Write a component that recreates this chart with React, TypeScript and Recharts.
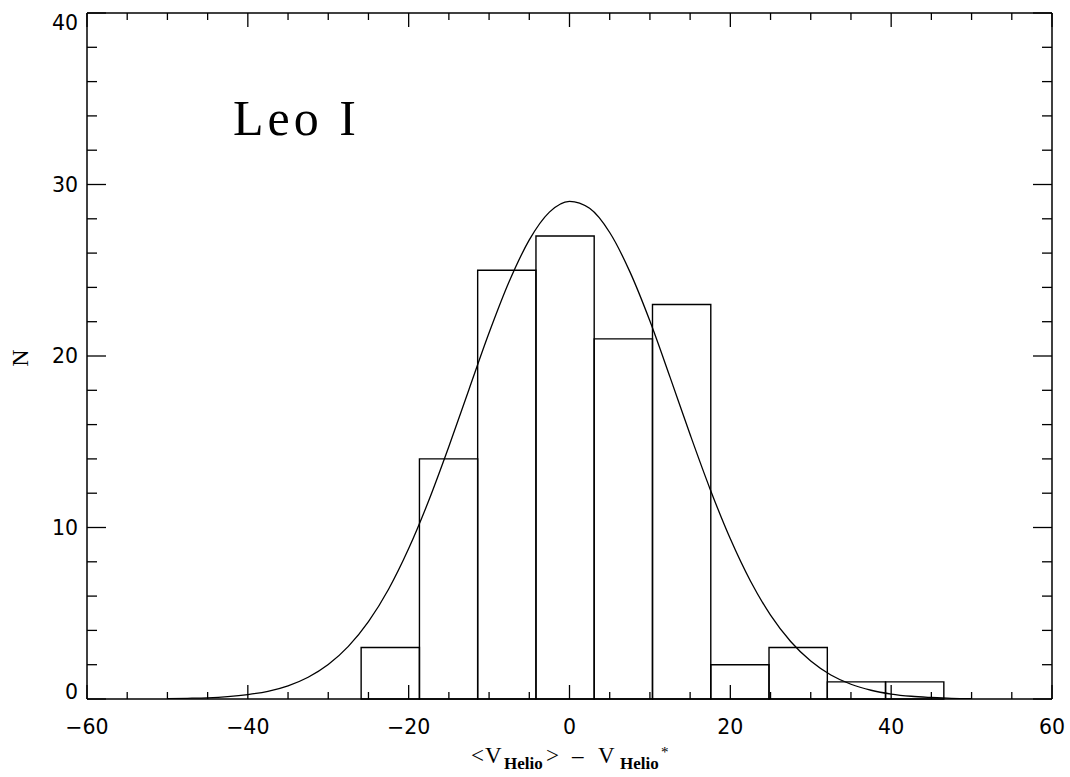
import React from "react";
import {
  ComposedChart,
  Line,
  XAxis,
  YAxis,
  ReferenceArea,
} from "recharts";

// histogram bins (velocity offset, km/s) and counts
const binStart = [-25.91, -18.66, -11.42, -4.17, 3.07, 10.32, 17.57, 24.81, 32.06, 39.3];
const binEnd = [-18.66, -11.42, -4.17, 3.07, 10.32, 17.57, 24.81, 32.06, 39.3, 46.55];
const counts = [3, 14, 25, 27, 21, 23, 2, 3, 1, 1];

// fitted curve
const curveX = [
  -50, -47.5, -45, -42.5, -40, -37.5, -35, -32.5, -30, -27.5, -25, -22.5, -20, -17.5, -15,
  -12.5, -10, -7.5, -5, -2.5, 0, 2.5, 5, 7.5, 10, 12.5, 15, 17.5, 20, 22.5, 25, 27.5, 30,
  32.5, 35, 37.5, 40, 42.5, 45, 47.5, 50,
];
const curveN = [
  0.02, 0.04, 0.07, 0.14, 0.26, 0.45, 0.77, 1.27, 2.01, 3.07, 4.51, 6.4, 8.77, 11.57, 14.72,
  18.05, 21.35, 24.34, 26.77, 28.39, 29.02, 28.61, 27.2, 24.92, 22.04, 18.77, 15.42, 12.22,
  9.34, 6.88, 4.89, 3.35, 2.21, 1.4, 0.86, 0.51, 0.29, 0.16, 0.09, 0.04, 0.02,
];

const xTicks = [-60, -55, -50, -45, -40, -35, -30, -25, -20, -15, -10, -5, 0, 5, 10, 15, 20, 25, 30, 35, 40, 45, 50, 55, 60];
const yTicks = [0, 2, 4, 6, 8, 10, 12, 14, 16, 18, 20, 22, 24, 26, 28, 30, 32, 34, 36, 38, 40];

const curve = curveX.map((x, i) => ({ x, n: curveN[i] }));

const LABEL_FONT = "'DejaVu Sans', 'Liberation Sans', sans-serif";
const SERIF = "'Liberation Serif', 'Times New Roman', serif";

function XTick(props: any) {
  const { x, y, payload, side } = props;
  const v = payload.value;
  const major = v % 20 === 0;
  const len = major ? 14 : 7;
  const dir = side === "bottom" ? -1 : 1;
  return (
    <g>
      <line x1={x} y1={y} x2={x} y2={y + dir * len} stroke="#000" strokeWidth={1.3} />
      {side === "bottom" && major && (
        <text x={x} y={y + 35} textAnchor="middle" fontFamily={LABEL_FONT} fontSize={20.5} fill="#000">
          {String(v).replace("-", "\u2212")}
        </text>
      )}
    </g>
  );
}

function YTick(props: any) {
  const { x, y, payload, side } = props;
  const v = payload.value;
  const major = v % 10 === 0;
  const len = major ? 19 : 10;
  const dir = side === "left" ? 1 : -1;
  let dy = 7;
  if (v === 40) dy = 17;
  if (v === 0) dy = 0;
  return (
    <g>
      <line x1={x} y1={y} x2={x + dir * len} y2={y} stroke="#000" strokeWidth={1.3} />
      {side === "left" && major && (
        <text x={x - 9} y={y + dy} textAnchor="end" fontFamily={LABEL_FONT} fontSize={20.5} fill="#000">
          {v}
        </text>
      )}
    </g>
  );
}

export default function App() {
  return (
    <div style={{ position: "absolute", left: 0, top: 0, width: 1070, height: 777, background: "#fff" }}>
      <ComposedChart
        width={1070}
        height={777}
        data={curve}
        margin={{ top: 12, right: 17, bottom: 0, left: 0 }}
      >
        <XAxis
          dataKey="x"
          type="number"
          domain={[-60, 60]}
          ticks={xTicks}
          interval={0}
          allowDataOverflow
          height={78}
          tickSize={0}
          tickMargin={0}
          tickLine={false}
          axisLine={{ stroke: "#000", strokeWidth: 1.5 }}
          tick={(p: any) => <XTick {...p} side="bottom" />}
        />
        <XAxis
          xAxisId="top"
          dataKey="x"
          orientation="top"
          type="number"
          domain={[-60, 60]}
          ticks={xTicks}
          interval={0}
          allowDataOverflow
          height={1}
          tickSize={0}
          tickMargin={0}
          tickLine={false}
          axisLine={{ stroke: "#000", strokeWidth: 1.5 }}
          tick={(p: any) => <XTick {...p} side="top" />}
        />
        <YAxis
          type="number"
          domain={[0, 40]}
          ticks={yTicks}
          interval={0}
          allowDataOverflow
          width={87}
          tickSize={0}
          tickMargin={0}
          tickLine={false}
          axisLine={{ stroke: "#000", strokeWidth: 1.5 }}
          tick={(p: any) => <YTick {...p} side="left" />}
        />
        <YAxis
          yAxisId="right"
          orientation="right"
          type="number"
          domain={[0, 40]}
          ticks={yTicks}
          interval={0}
          allowDataOverflow
          width={1}
          tickSize={0}
          tickMargin={0}
          tickLine={false}
          axisLine={{ stroke: "#000", strokeWidth: 1.5 }}
          tick={(p: any) => <YTick {...p} side="right" />}
        />
        {counts.map((c, i) => (
          <ReferenceArea
            key={i}
            x1={binStart[i]}
            x2={binEnd[i]}
            y1={0}
            y2={c}
            fill="none"
            fillOpacity={0}
            stroke="#000"
            strokeWidth={1.4}
            strokeOpacity={1}
          />
        ))}
        <Line
          dataKey="n"
          type="monotone"
          stroke="#000"
          strokeWidth={1.3}
          dot={false}
          isAnimationActive={false}
        />
        <Line
          dataKey="n"
          xAxisId="top"
          yAxisId="right"
          stroke="none"
          dot={false}
          legendType="none"
          isAnimationActive={false}
        />
      </ComposedChart>
      <svg
        width={1070}
        height={777}
        style={{ position: "absolute", left: 0, top: 0, pointerEvents: "none" }}
      >
        <text x={233} y={135} fontFamily={SERIF} fontSize={50} textLength={123} lengthAdjust="spacing" fill="#000">
          Leo I
        </text>
        <text
          x={20}
          y={358}
          transform="rotate(-90 20 358)"
          textAnchor="middle"
          dominantBaseline="central"
          fontFamily={SERIF}
          fontSize={24}
          fill="#000"
        >
          N
        </text>
        <text y={763} fontFamily={SERIF} fontSize={23} fill="#000">
          <tspan x={471}>{"<"}</tspan>
          <tspan x={485}>V</tspan>
          <tspan x={504} y={769} fontSize={17} fontWeight="bold">Helio</tspan>
          <tspan x={546} y={763}>{">"}</tspan>
          <tspan x={572}>{"\u2013"}</tspan>
          <tspan x={598}>V</tspan>
          <tspan x={620} y={769} fontSize={17} fontWeight="bold">Helio</tspan>
          <tspan x={661} y={757} fontSize={15}>*</tspan>
        </text>
      </svg>
    </div>
  );
}
